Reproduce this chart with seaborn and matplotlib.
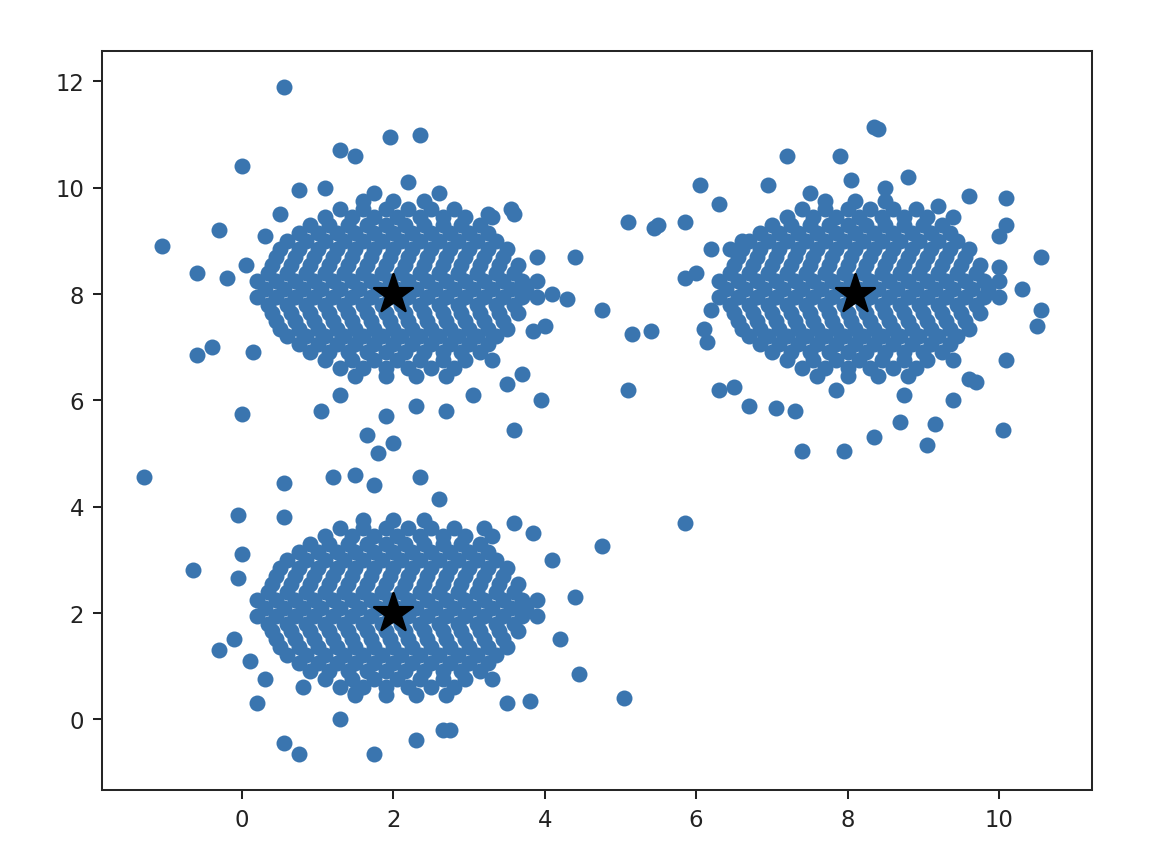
import numpy as np
import pandas as pd
import matplotlib
matplotlib.use("Agg")
import matplotlib.pyplot as plt
import seaborn as sns

# core rows of each blob: "y: x x x ..."
CORE_A = """
9.75: 1.6 2.0 2.4
9.6: 1.3 1.6 1.9 2.2 2.5 2.8
9.45: 1.1 1.45 1.75 2.05 2.35 2.65 2.95 3.3
9.3: 0.9 1.15 1.4 1.65 1.9 2.15 2.4 2.65 2.9 3.15
9.15: 0.75 1.0 1.25 1.5 1.75 2.0 2.25 2.5 2.75 3.0 3.25
9.0: 0.6 0.85 1.1 1.35 1.6 1.85 2.1 2.35 2.6 2.85 3.1 3.35
8.85: 0.5 0.75 1.0 1.25 1.5 1.75 2.0 2.25 2.5 2.75 3.0 3.25 3.5
8.7: 0.45 0.7 0.95 1.2 1.45 1.7 1.95 2.2 2.45 2.7 2.95 3.2 3.45
8.55: 0.4 0.65 0.9 1.15 1.4 1.65 1.9 2.15 2.4 2.65 2.9 3.15 3.4 3.65
8.4: 0.35 0.6 0.85 1.1 1.35 1.6 1.85 2.1 2.35 2.6 2.85 3.1 3.35 3.6
8.25: 0.2 0.45 0.7 0.95 1.2 1.45 1.7 1.95 2.2 2.45 2.7 2.95 3.2 3.45 3.7 3.9
8.1: 0.3 0.55 0.8 1.05 1.3 1.55 1.8 2.05 2.3 2.55 2.8 3.05 3.3 3.55 3.75
7.95: 0.2 0.45 0.7 0.95 1.2 1.45 1.7 1.95 2.2 2.45 2.7 2.95 3.2 3.45 3.7 3.9
7.8: 0.35 0.6 0.85 1.1 1.35 1.6 1.85 2.1 2.35 2.6 2.85 3.1 3.35 3.6
7.65: 0.4 0.65 0.9 1.15 1.4 1.65 1.9 2.15 2.4 2.65 2.9 3.15 3.4 3.65
7.5: 0.45 0.7 0.95 1.2 1.45 1.7 1.95 2.2 2.45 2.7 2.95 3.2 3.45
7.35: 0.5 0.75 1.0 1.25 1.5 1.75 2.0 2.25 2.5 2.75 3.0 3.25 3.5
7.2: 0.6 0.85 1.1 1.35 1.6 1.85 2.1 2.35 2.6 2.85 3.1 3.35
7.05: 0.75 1.0 1.25 1.5 1.75 2.0 2.25 2.5 2.75 3.0 3.25
6.9: 0.9 1.15 1.4 1.65 1.9 2.15 2.4 2.65 2.9 3.15
6.75: 1.1 1.45 1.75 2.05 2.35 2.65 2.95 3.3
6.6: 1.3 1.6 1.9 2.2 2.5 2.8
6.45: 1.5 1.9 2.3 2.7
"""
CORE_B = """
9.75: 7.7 8.1 8.5
9.6: 7.4 7.7 8.0 8.3 8.6 8.9
9.45: 7.2 7.55 7.85 8.15 8.45 8.75 9.05 9.4
9.3: 7.0 7.25 7.5 7.75 8.0 8.25 8.5 8.75 9.0 9.25
9.15: 6.85 7.1 7.35 7.6 7.85 8.1 8.35 8.6 8.85 9.1 9.35
9.0: 6.7 6.95 7.2 7.45 7.7 7.95 8.2 8.45 8.7 8.95 9.2 9.45
8.85: 6.6 6.85 7.1 7.35 7.6 7.85 8.1 8.35 8.6 8.85 9.1 9.35 9.6
8.7: 6.55 6.8 7.05 7.3 7.55 7.8 8.05 8.3 8.55 8.8 9.05 9.3 9.55
8.55: 6.5 6.75 7.0 7.25 7.5 7.75 8.0 8.25 8.5 8.75 9.0 9.25 9.5 9.75
8.4: 6.45 6.7 6.95 7.2 7.45 7.7 7.95 8.2 8.45 8.7 8.95 9.2 9.45 9.7
8.25: 6.3 6.55 6.8 7.05 7.3 7.55 7.8 8.05 8.3 8.55 8.8 9.05 9.3 9.55 9.8 10.0
8.1: 6.4 6.65 6.9 7.15 7.4 7.65 7.9 8.15 8.4 8.65 8.9 9.15 9.4 9.65 9.85
7.95: 6.3 6.55 6.8 7.05 7.3 7.55 7.8 8.05 8.3 8.55 8.8 9.05 9.3 9.55 9.8 10.0
7.8: 6.45 6.7 6.95 7.2 7.45 7.7 7.95 8.2 8.45 8.7 8.95 9.2 9.45 9.7
7.65: 6.5 6.75 7.0 7.25 7.5 7.75 8.0 8.25 8.5 8.75 9.0 9.25 9.5 9.75
7.5: 6.55 6.8 7.05 7.3 7.55 7.8 8.05 8.3 8.55 8.8 9.05 9.3 9.55
7.35: 6.6 6.85 7.1 7.35 7.6 7.85 8.1 8.35 8.6 8.85 9.1 9.35 9.6
7.2: 6.7 6.95 7.2 7.45 7.7 7.95 8.2 8.45 8.7 8.95 9.2 9.45
7.05: 6.85 7.1 7.35 7.6 7.85 8.1 8.35 8.6 8.85 9.1 9.35
6.9: 7.0 7.25 7.5 7.75 8.0 8.25 8.5 8.75 9.0 9.25
6.75: 7.2 7.55 7.85 8.15 8.45 8.75 9.05 9.4
6.6: 7.4 7.7 8.0 8.3 8.6 8.9
6.45: 7.6 8.0 8.4 8.8
"""
CORE_C = """
3.75: 1.6 2.0 2.4
3.6: 1.3 1.6 1.9 2.2 2.5 2.8
3.45: 1.1 1.45 1.75 2.05 2.35 2.65 2.95 3.3
3.3: 0.9 1.15 1.4 1.65 1.9 2.15 2.4 2.65 2.9 3.15
3.15: 0.75 1.0 1.25 1.5 1.75 2.0 2.25 2.5 2.75 3.0 3.25
3.0: 0.6 0.85 1.1 1.35 1.6 1.85 2.1 2.35 2.6 2.85 3.1 3.35
2.85: 0.5 0.75 1.0 1.25 1.5 1.75 2.0 2.25 2.5 2.75 3.0 3.25 3.5
2.7: 0.45 0.7 0.95 1.2 1.45 1.7 1.95 2.2 2.45 2.7 2.95 3.2 3.45
2.55: 0.4 0.65 0.9 1.15 1.4 1.65 1.9 2.15 2.4 2.65 2.9 3.15 3.4 3.65
2.4: 0.35 0.6 0.85 1.1 1.35 1.6 1.85 2.1 2.35 2.6 2.85 3.1 3.35 3.6
2.25: 0.2 0.45 0.7 0.95 1.2 1.45 1.7 1.95 2.2 2.45 2.7 2.95 3.2 3.45 3.7 3.9
2.1: 0.3 0.55 0.8 1.05 1.3 1.55 1.8 2.05 2.3 2.55 2.8 3.05 3.3 3.55 3.75
1.95: 0.2 0.45 0.7 0.95 1.2 1.45 1.7 1.95 2.2 2.45 2.7 2.95 3.2 3.45 3.7 3.9
1.8: 0.35 0.6 0.85 1.1 1.35 1.6 1.85 2.1 2.35 2.6 2.85 3.1 3.35 3.6
1.65: 0.4 0.65 0.9 1.15 1.4 1.65 1.9 2.15 2.4 2.65 2.9 3.15 3.4 3.65
1.5: 0.45 0.7 0.95 1.2 1.45 1.7 1.95 2.2 2.45 2.7 2.95 3.2 3.45
1.35: 0.5 0.75 1.0 1.25 1.5 1.75 2.0 2.25 2.5 2.75 3.0 3.25 3.5
1.2: 0.6 0.85 1.1 1.35 1.6 1.85 2.1 2.35 2.6 2.85 3.1 3.35
1.05: 0.75 1.0 1.25 1.5 1.75 2.0 2.25 2.5 2.75 3.0 3.25
0.9: 0.9 1.15 1.4 1.65 1.9 2.15 2.4 2.65 2.9 3.15
0.75: 1.1 1.45 1.75 2.05 2.35 2.65 2.95 3.3
0.6: 1.3 1.6 1.9 2.2 2.5 2.8
0.45: 1.5 1.9 2.3 2.7
"""

OUTER_A = [(0.55, 11.9), (1.95, 10.95), (2.35, 11.0), (1.5, 10.6), (1.3, 10.7), (0.0, 10.4),
           (-1.05, 8.9), (-0.6, 8.4), (-0.3, 9.2), (-0.2, 8.3), (0.05, 8.55), (-0.6, 6.85),
           (-0.4, 7.0), (0.0, 5.75), (0.15, 6.9), (1.05, 5.8), (1.3, 6.1), (1.9, 5.7),
           (2.0, 5.2), (2.3, 5.9), (2.7, 5.8), (3.05, 6.1), (3.5, 6.3), (3.6, 5.45),
           (3.7, 6.5), (3.95, 6.0), (3.85, 7.3), (4.0, 7.4), (4.3, 7.9), (4.4, 8.7),
           (4.1, 8.0), (3.9, 8.7), (3.6, 9.5), (3.55, 9.6), (3.25, 9.5), (2.6, 9.9),
           (2.2, 10.1), (1.75, 9.9), (1.1, 10.0), (0.75, 9.95), (0.5, 9.5), (0.3, 9.1),
           (4.75, 7.7), (1.65, 5.35)]
OUTER_B = [(5.1, 9.35), (5.45, 9.25), (5.5, 9.3), (5.85, 9.35), (6.05, 10.05), (6.3, 9.7),
           (5.85, 8.3), (6.0, 8.4), (6.2, 7.7), (6.1, 7.35), (6.15, 7.1), (5.15, 7.25),
           (5.4, 7.3), (5.1, 6.2), (6.5, 6.25), (6.7, 5.9), (7.05, 5.85), (7.3, 5.8),
           (7.4, 5.05), (7.95, 5.05), (8.35, 5.3), (8.7, 5.6), (9.05, 5.15), (9.15, 5.55),
           (10.05, 5.45), (9.6, 6.4), (9.7, 6.35), (10.1, 6.75), (10.5, 7.4), (10.55, 7.7),
           (10.55, 8.7), (10.3, 8.1), (10.0, 8.5), (10.0, 9.1), (10.1, 9.8), (10.1, 9.3),
           (9.6, 9.85), (9.2, 9.65), (8.8, 10.2), (8.5, 10.0), (8.35, 11.15), (8.4, 11.1),
           (7.9, 10.6), (8.05, 10.15), (7.2, 10.6), (6.95, 10.05), (7.5, 9.9), (6.6, 9.0),
           (6.45, 8.85), (6.2, 8.85), (9.4, 6.0), (8.75, 6.1), (7.85, 6.2), (6.3, 6.2)]
OUTER_C = [(-1.3, 4.55), (-0.65, 2.8), (-0.05, 3.85), (0.0, 3.1), (-0.3, 1.3), (-0.1, 1.5),
           (-0.05, 2.65), (0.1, 1.1), (0.2, 0.3), (0.55, -0.45), (0.75, -0.65), (1.75, -0.65),
           (1.3, 0.0), (2.3, -0.4), (2.75, -0.2), (2.65, -0.2), (3.5, 0.3), (3.8, 0.35),
           (4.45, 0.85), (4.2, 1.5), (4.4, 2.3), (4.1, 3.0), (4.75, 3.25), (3.85, 3.5),
           (3.6, 3.7), (3.2, 3.6), (2.35, 4.55), (2.6, 4.15), (1.8, 5.0), (1.75, 4.4),
           (1.2, 4.55), (1.5, 4.6), (0.55, 4.45), (0.55, 3.8), (5.05, 0.4), (5.85, 3.7),
           (0.8, 0.6), (1.5, 0.5), (0.3, 0.75)]

CENTERS_X = [2.0, 8.1, 2.0]
CENTERS_Y = [8.0, 8.0, 2.0]


def parse_rows(text):
    pts = []
    for line in text.strip().splitlines():
        y, xs = line.split(":")
        pts += [(float(x), float(y)) for x in xs.split()]
    return pts


points = []
for core, outer in [(CORE_A, OUTER_A), (CORE_B, OUTER_B), (CORE_C, OUTER_C)]:
    points += parse_rows(core) + outer
df = pd.DataFrame(points, columns=["x", "y"])

sns.set_style("ticks")
plt.rcParams['font.family'] = ['DejaVu Sans']
fig, ax = plt.subplots(figsize=(6.4, 4.74), dpi=182)
sns.scatterplot(data=df, x="x", y="y", color="#3a75af", s=40, linewidth=0, alpha=1, ax=ax)
ax.scatter(CENTERS_X, CENTERS_Y, marker="*", s=260, color="black", zorder=3)
ax.set_xlim(-1.85, 11.23)
ax.set_ylim(-1.34, 12.57)
ax.set_xticks([0, 2, 4, 6, 8, 10])
ax.set_yticks([0, 2, 4, 6, 8, 10, 12])
ax.set_xlabel("")
ax.set_ylabel("")
ax.tick_params(labelsize=9, colors="#222222")
fig.subplots_adjust(left=0.0875, right=0.9375, top=0.94, bottom=0.083)
fig.savefig("out.png")
